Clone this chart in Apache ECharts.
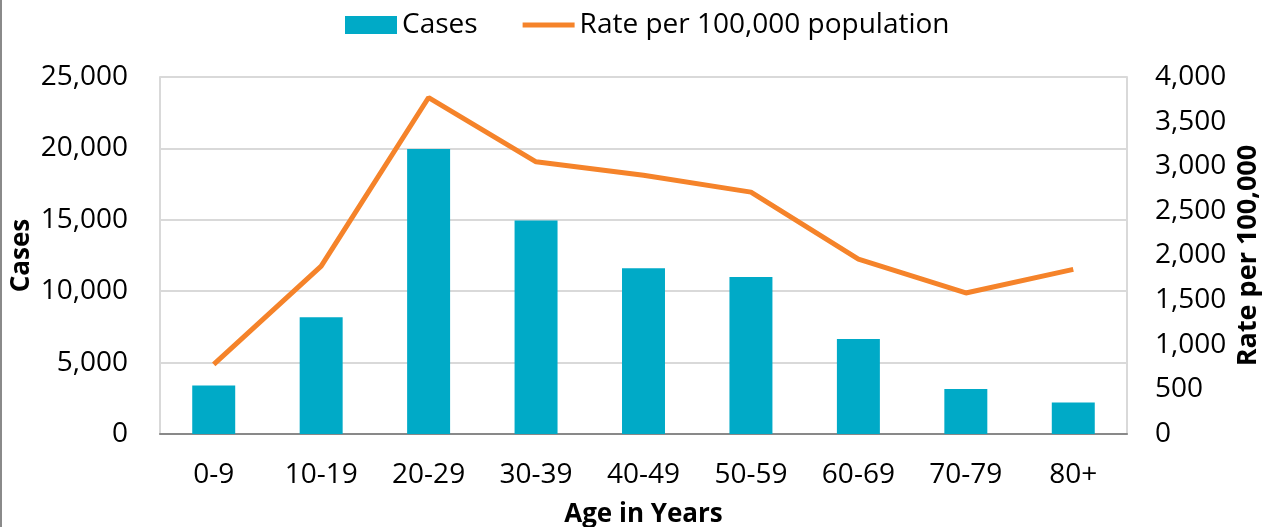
<!DOCTYPE html>
<html>
<head>
<meta charset="utf-8">
<script src="https://cdn.jsdelivr.net/npm/echarts@6/dist/echarts.min.js"></script>
<style>
html, body { margin: 0; padding: 0; background: #fff; }
#chart { width: 1262px; height: 527px; box-sizing: border-box; border-left: 2px solid #8a8a8a; }
</style>
</head>
<body>
<div id="chart"></div>
<script>
var ageGroups = ['0-9', '10-19', '20-29', '30-39', '40-49', '50-59', '60-69', '70-79', '80+'];
var cases = [3400, 8170, 19950, 14950, 11600, 11000, 6650, 3150, 2200];
var rates = [780, 1880, 3770, 3050, 2900, 2710, 1960, 1580, 1845];

var font = 'Open Sans';
var myChart = echarts.init(document.getElementById('chart'));

option = {
	textStyle: { fontFamily: font, color: '#000' },
	legend: {
		top: 6,
		left: 338,
		itemWidth: 52,
		itemHeight: 18,
		itemGap: 45,
		textStyle: { fontFamily: font, fontSize: 28, color: '#000' },
		data: [
			{ name: 'Cases', icon: 'rect' },
			{ name: 'Rate per 100,000 population', icon: 'path://M0,0 L52,0 L52,5 L0,5 Z' }
		]
	},
	grid: {
		left: 158,
		right: 135,
		top: 77,
		bottom: 93,
		outerBoundsMode: 'none'
	},
	xAxis: {
		type: 'category',
		data: ageGroups,
		name: 'Age in Years',
		nameLocation: 'middle',
		nameGap: 68,
		nameMoveOverlap: false,
		nameTextStyle: { fontFamily: font, fontSize: 26, fontWeight: 'bold', color: '#000' },
		axisLine: { lineStyle: { color: '#898989', width: 2 } },
		axisTick: { show: false },
		axisLabel: { fontSize: 28, color: '#000', margin: 27 }
	},
	yAxis: [{
		type: 'value',
		min: 0,
		max: 25000,
		interval: 5000,
		name: 'Cases',
		nameLocation: 'middle',
		nameGap: 125,
		nameMoveOverlap: false,
		nameTextStyle: { fontFamily: font, fontSize: 26, fontWeight: 'bold', color: '#000' },
		axisLine: { show: true, lineStyle: { color: '#d9d9d9', width: 2 } },
		axisTick: { show: false },
		axisLabel: {
			fontSize: 28, color: '#000', margin: 32,
			formatter: function(v) { return v.toLocaleString('en-US'); }
		},
		splitLine: { lineStyle: { color: '#d9d9d9', width: 2 } }
	}, {
		type: 'value',
		min: 0,
		max: 4000,
		interval: 500,
		name: 'Rate per 100,000',
		nameLocation: 'middle',
		nameGap: 108,
		nameMoveOverlap: false,
		nameTextStyle: { fontFamily: font, fontSize: 27, fontWeight: 'bold', color: '#000' },
		axisLine: { show: true, lineStyle: { color: '#d9d9d9', width: 2 } },
		axisTick: { show: false },
		axisLabel: {
			fontSize: 28, color: '#000', margin: 28,
			formatter: function(v) { return v.toLocaleString('en-US'); }
		},
		splitLine: { show: false }
	}],
	series: [{
		name: 'Cases',
		type: 'bar',
		data: cases,
		barWidth: '40%',
		itemStyle: { color: '#00AAC7' }
	}, {
		name: 'Rate per 100,000 population',
		type: 'line',
		yAxisIndex: 1,
		data: rates,
		symbol: 'none',
		lineStyle: { color: '#F5832A', width: 5 },
		itemStyle: { color: '#F5832A' }
	}]
};

myChart.setOption(option);
</script>
</body>
</html>
